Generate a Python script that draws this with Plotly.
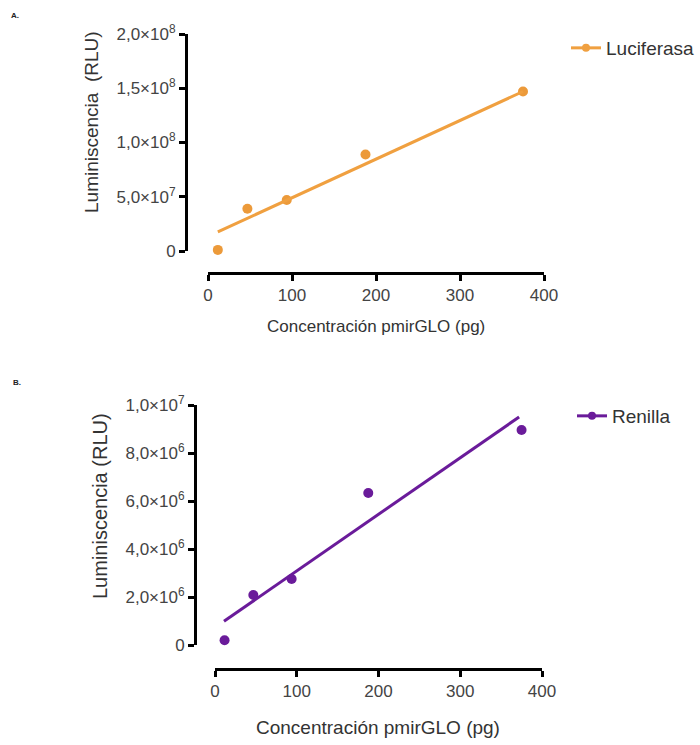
import plotly.graph_objects as go

# ---- data ----
conc_pg = [11.7, 46.9, 93.75, 187.5, 375]

luc_rlu = [0.1e7, 3.9e7, 4.7e7, 8.9e7, 14.7e7]
luc_fit_x = [11.7, 375]
luc_fit_y = [1.76e7, 1.47e8]

ren_rlu = [0.2e6, 2.08e6, 2.75e6, 6.33e6, 8.96e6]
ren_fit_x = [11.0, 372]
ren_fit_y = [0.99e6, 9.5e6]

x_ticks = [0, 100, 200, 300, 400]
luc_ticks = [0, 5e7, 1e8, 1.5e8, 2e8]
luc_ticktext = ["0", "5,0×10<sup>7</sup>", "1,0×10<sup>8</sup>", "1,5×10<sup>8</sup>", "2,0×10<sup>8</sup>"]
ren_ticks = [0, 2e6, 4e6, 6e6, 8e6, 1e7]
ren_ticktext = ["0", "2,0×10<sup>6</sup>", "4,0×10<sup>6</sup>", "6,0×10<sup>6</sup>",
                "8,0×10<sup>6</sup>", "1,0×10<sup>7</sup>"]

W, H = 700, 745
ORANGE = "#F0A040"
ORANGE_PT = "#EC9A3A"
PURPLE = "#6A1B9A"
FONT = "Liberation Sans, Arial, sans-serif"

def px_x(p):
    return p / W

def px_y(p):
    return 1 - p / H

fig = go.Figure()

# Panel A
fig.add_trace(go.Scatter(x=conc_pg, y=luc_rlu, mode="markers", xaxis="x", yaxis="y",
                         marker=dict(color=ORANGE_PT, size=10), showlegend=False, cliponaxis=False))
fig.add_trace(go.Scatter(x=luc_fit_x, y=luc_fit_y, mode="lines", xaxis="x", yaxis="y",
                         line=dict(color=ORANGE, width=3), showlegend=False))
fig.add_trace(go.Scatter(x=[None], y=[None], mode="lines+markers", xaxis="x", yaxis="y",
                         name="Luciferasa", legend="legend",
                         line=dict(color=ORANGE, width=3), marker=dict(color=ORANGE, size=8)))

# Panel B
fig.add_trace(go.Scatter(x=conc_pg, y=ren_rlu, mode="markers", xaxis="x2", yaxis="y2",
                         marker=dict(color=PURPLE, size=10), showlegend=False, cliponaxis=False))
fig.add_trace(go.Scatter(x=ren_fit_x, y=ren_fit_y, mode="lines", xaxis="x2", yaxis="y2",
                         line=dict(color=PURPLE, width=3), showlegend=False))
fig.add_trace(go.Scatter(x=[None], y=[None], mode="lines+markers", xaxis="x2", yaxis="y2",
                         name="Renilla", legend="legend2",
                         line=dict(color=PURPLE, width=3), marker=dict(color=PURPLE, size=8)))

axis_common = dict(showline=True, linecolor="black", linewidth=3, ticks="outside",
                   ticklen=6, tickwidth=3, tickcolor="black", showgrid=False, zeroline=False,
                   automargin=False,
                   tickfont=dict(family=FONT, size=17, color="#444444"), fixedrange=True)

fig.update_layout(
    width=W, height=H,
    margin=dict(l=0, r=0, t=0, b=0, pad=0),
    paper_bgcolor="white", plot_bgcolor="white",
    font=dict(family=FONT, color="#333333"),
    xaxis=dict(domain=[px_x(208), px_x(544)], range=[0, 400], anchor="free",
               position=px_y(273), tickvals=x_ticks, **axis_common),
    yaxis=dict(domain=[px_y(251), px_y(34)], range=[0, 2e8], anchor="free",
               position=px_x(186), tickvals=luc_ticks, ticktext=luc_ticktext, **axis_common),
    xaxis2=dict(domain=[px_x(215), px_x(542)], range=[0, 400], anchor="free",
                position=px_y(669), tickvals=x_ticks, **axis_common),
    yaxis2=dict(domain=[px_y(645), px_y(405)], range=[0, 1e7], anchor="free",
                position=px_x(195), tickvals=ren_ticks, ticktext=ren_ticktext, **axis_common),
    legend=dict(x=1.0, y=px_y(48), xanchor="right", yanchor="middle",
                font=dict(family=FONT, size=19, color="#333333"), bgcolor="rgba(0,0,0,0)"),
    legend2=dict(x=px_x(572), y=px_y(416), xanchor="left", yanchor="middle",
                 font=dict(family=FONT, size=19, color="#333333"), bgcolor="rgba(0,0,0,0)"),
)

def note(text, xp, yp, size, angle=0, color="#333333"):
    return dict(text=text, x=px_x(xp), y=px_y(yp), xref="paper", yref="paper",
                xanchor="center", yanchor="middle", textangle=angle, showarrow=False,
                font=dict(family=FONT, size=size, color=color))

annotations = [
    note("<b>A.</b>", 15, 16, 8, color="#222222"),
    note("<b>B.</b>", 17, 382, 8, color="#222222"),
    note("Luminiscencia  (RLU)", 92, 122, 19, angle=-90),
    note("Concentración pmirGLO (pg)", 376, 326, 17),
    note("Luminiscencia (RLU)", 100, 506, 20, angle=-90),
    note("Concentración pmirGLO (pg)", 378, 727, 19),
]
fig.update_layout(annotations=annotations)

fig.write_html("out.html")
